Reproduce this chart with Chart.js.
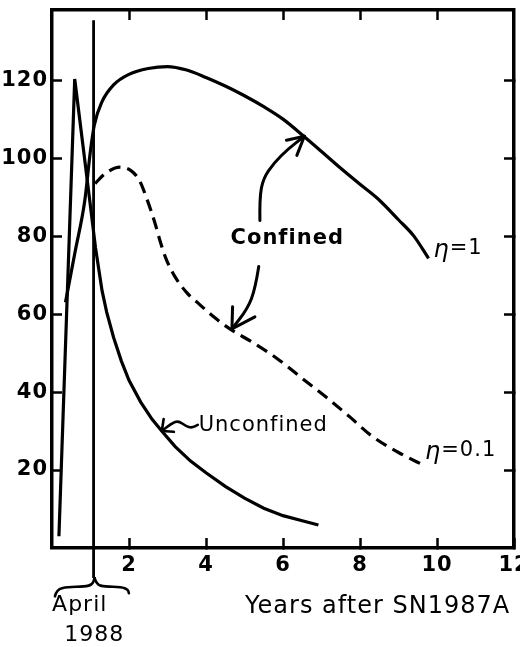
<!DOCTYPE html>
<html><head><meta charset="utf-8">
<script src="https://cdn.jsdelivr.net/npm/chart.js@4.4.1/dist/chart.umd.min.js"></script>
<style>html,body{margin:0;padding:0;background:#fff}canvas{display:block}</style>
</head><body>
<canvas id="c" width="520" height="647"></canvas>
<script>
// ---- data (years after SN1987A, values) ----
const xTickValues = [2, 4, 6, 8, 10, 12];
const yTickValues = [20, 40, 60, 80, 100, 120];
const xAxisTitle = 'Years after SN1987A';

const unconfinedX = [0.18, 0.59, 0.97, 1.13, 1.3, 1.42, 1.6, 1.8, 2.0, 2.3, 2.6, 2.85, 3.2, 3.6, 4.0, 4.5, 5.0, 5.5, 6.0, 6.5, 6.92];
const unconfinedY = [3, 120.3, 90, 77, 66, 60.5, 54, 48, 43, 37.5, 33, 30, 26, 22.3, 19.3, 15.8, 12.8, 10.2, 8.3, 7, 5.9];

const eta1X = [0.35, 0.6, 0.85, 1.0, 1.1, 1.3, 1.6, 2.0, 2.5, 3.0, 3.5, 4.0, 4.5, 5.0, 5.5, 6.0, 6.6, 7.0, 7.5, 8.0, 8.45, 9.0, 9.4, 9.78];
const eta1Y = [63, 76, 89, 102, 108.5, 114.5, 118.8, 121.5, 123, 123.5, 122.6, 120.7, 118.5, 116, 113.2, 110, 105.1, 101.7, 97.4, 93.3, 89.7, 84.2, 80, 74.3];

const eta01X = [1.12, 1.4, 1.77, 2.05, 2.27, 2.48, 2.67, 2.8, 2.95, 3.17, 3.5, 3.83, 4.2, 4.62, 5.2, 5.86, 6.5, 7.17, 7.75, 8.31, 9.0, 9.7];
const eta01Y = [93.5, 96.2, 97.7, 96.8, 94.3, 89.1, 83.5, 79, 74.5, 70, 65.5, 62.5, 59.3, 56.2, 52.8, 48.5, 43.5, 38.3, 33.5, 28.7, 24.5, 21];

const aprilX = [1.08, 1.08];
const aprilY = [135.4, -7.7];

// ---- annotation anchors (data units) ----
const arrowEta1Stem = [[5.40, 84.0], [5.39, 89.7], [5.485, 94.8], [5.76, 98.7], [6.146, 102.5], [6.555, 105.6]];
const arrowEta1Head = [[6.555, 105.6], [6.09, 104.6], [6.36, 100.7]];
const arrowEta01Stem = [[5.37, 72.2], [5.28, 66.5], [5.08, 61.4], [4.674, 56.2]];
const arrowEta01Head = [[4.674, 56.2], [4.69, 61.9], [5.27, 59.3]];
const arrowUnconf = [[2.853, 30.03], [3.109, 32.08], [3.29, 32.6], [3.475, 31.3], [3.631, 30.8], [3.786, 31.6]];
const arrowUnconfHead = [[2.853, 30.03], [2.90, 33.1], [3.166, 29.8]];
const braceLeft = [[0.076, -12.4], [0.12, -10.6], [0.4, -10.0], [0.85, -9.9], [1.05, -9.4], [1.107, -7.7]];
const braceRight = [[1.107, -7.7], [1.16, -9.4], [1.37, -9.9], [1.8, -10.0], [1.97, -10.6], [1.997, -11.6]];

const posConfined = [6.11, 79.4];
const posUnconfined = [3.81, 31.3];
const posEta1 = [9.91, 76.8];
const posEta01 = [9.69, 24.9];
const posApril = [0.72, -14.6];
const pos1988 = [1.1, -22.3];
const posTitle = [11.9, -15.2];

const FONT = '"DejaVu Sans", sans-serif';
const mk = (xs, ys) => xs.map((x, i) => ({x, y: ys[i]}));

const spacing = {id: 'spacing', beforeDraw(c) { c.ctx.letterSpacing = '1px'; }};

const annotations = {
  id: 'annotations',
  afterDraw(chart) {
    const {ctx, scales: {x, y}} = chart;
    const P = p => [x.getPixelForValue(p[0]), y.getPixelForValue(p[1])];
    ctx.save();
    ctx.strokeStyle = '#000'; ctx.fillStyle = '#000';
    ctx.lineWidth = 3; ctx.lineCap = 'round'; ctx.lineJoin = 'round';
    ctx.setLineDash([]);
    const smooth = pts => {
      const q = pts.map(P);
      ctx.beginPath(); ctx.moveTo(q[0][0], q[0][1]);
      for (let i = 1; i < q.length - 1; i++) {
        const mx = (q[i][0] + q[i + 1][0]) / 2, my = (q[i][1] + q[i + 1][1]) / 2;
        ctx.quadraticCurveTo(q[i][0], q[i][1], mx, my);
      }
      const l = q[q.length - 1]; ctx.lineTo(l[0], l[1]); ctx.stroke();
    };
    const head = h => {
      const t = P(h[0]);
      [h[1], h[2]].forEach(b => { const p = P(b); ctx.beginPath(); ctx.moveTo(p[0], p[1]); ctx.lineTo(t[0], t[1]); ctx.stroke(); });
    };
    smooth(arrowEta1Stem); head(arrowEta1Head);
    smooth(arrowEta01Stem); head(arrowEta01Head);
    ctx.lineWidth = 2.6;
    smooth(arrowUnconf); head(arrowUnconfHead);
    smooth(braceLeft); smooth(braceRight);

    ctx.textBaseline = 'middle';
    ctx.letterSpacing = '1px';
    let p = P(posConfined);
    ctx.font = 'bold 21px ' + FONT; ctx.textAlign = 'center';
    ctx.fillText('Confined', p[0], p[1]);
    p = P(posUnconfined);
    ctx.font = '21px ' + FONT; ctx.textAlign = 'left';
    ctx.fillText('Unconfined', p[0], p[1]);
    const eta = (pos, rest) => {
      const q = P(pos);
      ctx.textAlign = 'left';
      ctx.font = 'italic 24px ' + FONT;
      ctx.fillText('η', q[0], q[1] + 2);
      const w = ctx.measureText('η').width;
      ctx.font = '21px ' + FONT;
      ctx.fillText(rest, q[0] + w, q[1]);
    };
    eta(posEta1, '=1');
    eta(posEta01, '=0.1');
    ctx.font = '22px ' + FONT; ctx.textAlign = 'center';
    p = P(posApril); ctx.fillText('April', p[0], p[1]);
    p = P(pos1988); ctx.fillText('1988', p[0], p[1]);
    // x axis title
    ctx.font = '24px ' + FONT; ctx.textAlign = 'right';
    p = P(posTitle); ctx.fillText(xAxisTitle, p[0], p[1]);
    ctx.restore();
  }
};

const lineDs = (label, data, extra) => Object.assign({
  label, data, showLine: true, borderColor: '#000', backgroundColor: '#000',
  borderWidth: 3.2, pointRadius: 0, pointHoverRadius: 0, fill: false
}, extra);

const tickGrid = {drawOnChartArea: false, drawTicks: true, tickLength: -10, tickColor: '#000', tickWidth: 2.5};
const axisBorder = {display: true, color: '#000', width: 3.5};

new Chart(document.getElementById('c'), {
  type: 'scatter',
  data: {
    datasets: [
      lineDs('Unconfined', mk(unconfinedX, unconfinedY), {tension: 0}),
      lineDs('Confined η=1', mk(eta1X, eta1Y), {cubicInterpolationMode: 'monotone'}),
      lineDs('Confined η=0.1', mk(eta01X, eta01Y), {cubicInterpolationMode: 'monotone', borderDash: [12, 7]}),
      lineDs('April 1988', mk(aprilX, aprilY), {borderWidth: 2.8, clip: false})
    ]
  },
  options: {
    responsive: false, animation: false, devicePixelRatio: 1,
    layout: {padding: 0},
    plugins: {legend: {display: false}, tooltip: {enabled: false}},
    scales: {
      x: {
        type: 'linear', position: 'bottom', min: 0, max: 12,
        afterBuildTicks: s => { s.ticks = xTickValues.map(v => ({value: v})); },
        ticks: {autoSkip: false, maxRotation: 0, padding: 15, color: '#000', font: {family: FONT, size: 21, weight: 'bold'}},
        grid: tickGrid, border: axisBorder,
        title: {display: false, text: xAxisTitle},
        afterFit: s => { s.height = 99; s.paddingLeft = 0; s.paddingRight = 0; }
      },
      x2: {
        type: 'linear', position: 'top', min: 0, max: 12,
        afterBuildTicks: s => { s.ticks = xTickValues.filter(v => v < 12).map(v => ({value: v})); },
        ticks: {display: false}, grid: tickGrid, border: axisBorder,
        afterFit: s => { s.height = 10; s.paddingLeft = 0; s.paddingRight = 0; }
      },
      y: {
        type: 'linear', position: 'left', min: 0, max: 138,
        afterBuildTicks: s => { s.ticks = yTickValues.map(v => ({value: v})); },
        ticks: {autoSkip: false, padding: 14, color: '#000', font: {family: FONT, size: 21, weight: 'bold'}},
        grid: tickGrid, border: axisBorder,
        afterFit: s => { s.width = 52; s.paddingTop = 0; s.paddingBottom = 0; }
      },
      y2: {
        type: 'linear', position: 'right', min: 0, max: 138,
        afterBuildTicks: s => { s.ticks = yTickValues.map(v => ({value: v})); },
        ticks: {display: false}, grid: tickGrid, border: axisBorder,
        afterFit: s => { s.width = 6; s.paddingTop = 0; s.paddingBottom = 0; }
      }
    }
  },
  plugins: [spacing, annotations]
});
</script>
</body></html>
